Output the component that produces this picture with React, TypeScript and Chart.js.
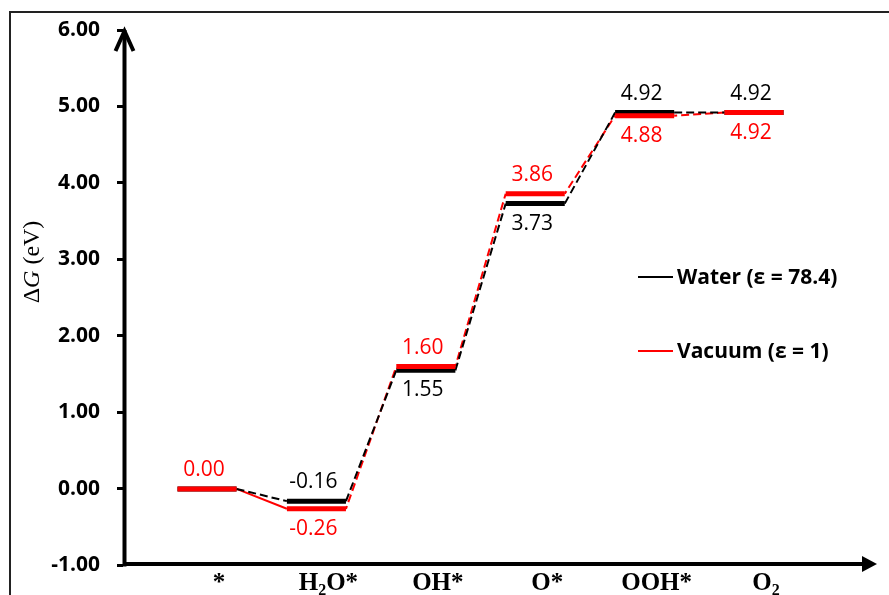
import React, { useEffect, useRef } from "react";
import { Chart, registerables } from "chart.js";

Chart.register(...registerables);

// ---- data ----
const states = ["*", "H2O*", "OH*", "O*", "OOH*", "O2"];
const waterG = [0.0, -0.16, 1.55, 3.73, 4.92, 4.92];
const vacuumG = [0.0, -0.26, 1.6, 3.86, 4.88, 4.92];
const waterLabelSide: (string | null)[] = [null, "above", "below", "below", "above", "above"];
const vacuumLabelSide: (string | null)[] = ["above", "below", "above", "above", "below", "below"];
const seriesNames = ["Water (\u03b5 = 78.4)", "Vacuum (\u03b5 = 1)"];
const seriesColors = ["#000000", "#ff0000"];
const yMin = -1;
const yMax = 6;
const yStep = 1;

const HALF = 0.27;

function levelPoints(vals: number[]) {
  const pts: any[] = [];
  vals.forEach((v, i) => {
    pts.push({ x: i - HALF, y: v }, { x: i + HALF, y: v }, { x: i + HALF, y: null });
  });
  return pts;
}
function connectorPoints(vals: number[]) {
  const pts: any[] = [];
  for (let i = 0; i < vals.length - 1; i++) {
    pts.push({ x: i + HALF, y: vals[i] }, { x: i + 1 - HALF, y: vals[i + 1] }, { x: i + 1 - HALF, y: null });
  }
  return pts;
}

const LABEL_FONT = "21px 'Open Sans'";
const BOLD_FONT = "bold 21px 'Open Sans'";

const decorPlugin = {
  id: "decor",
  beforeDraw(chart: any) {
    const ctx = chart.ctx;
    ctx.save();
    ctx.fillStyle = "#fff";
    ctx.fillRect(0, 0, chart.width, chart.height);
    ctx.strokeStyle = "#222";
    ctx.lineWidth = 2;
    ctx.strokeRect(10, 12, chart.width + 20, chart.height + 20);
    ctx.restore();
  },
  afterDraw(chart: any) {
    const ctx = chart.ctx;
    const area = chart.chartArea;
    const xs = chart.scales.x;
    const ys = chart.scales.y;
    ctx.save();
    // y axis with open arrow
    const ax = area.left + 1.5;
    ctx.strokeStyle = "#000";
    ctx.lineWidth = 4;
    ctx.lineCap = "butt";
    ctx.beginPath();
    ctx.moveTo(ax, area.bottom + 1);
    ctx.lineTo(ax, area.top);
    ctx.stroke();
    ctx.lineJoin = "miter";
    ctx.beginPath();
    ctx.moveTo(ax - 9, area.top + 21);
    ctx.lineTo(ax, area.top + 1);
    ctx.lineTo(ax + 9, area.top + 21);
    ctx.stroke();
    // x axis with filled arrow
    const ay = area.bottom - 1.5;
    ctx.beginPath();
    ctx.moveTo(area.left, ay);
    ctx.lineTo(area.right - 12, ay);
    ctx.stroke();
    ctx.fillStyle = "#000";
    ctx.beginPath();
    ctx.moveTo(area.right, ay);
    ctx.lineTo(area.right - 15, ay - 8);
    ctx.lineTo(area.right - 15, ay + 8);
    ctx.closePath();
    ctx.fill();

    // category labels with subscripts
    ctx.fillStyle = "#000";
    ctx.textBaseline = "alphabetic";
    ctx.textAlign = "left";
    const mainFont = "bold 25px 'Liberation Serif'";
    const subFont = "bold 16px 'Liberation Serif'";
    states.forEach((s, i) => {
      const parts: { t: string; sub: boolean }[] = [];
      const re = /(\d+)|([^\d]+)/g;
      let m;
      while ((m = re.exec(s))) parts.push({ t: m[0], sub: !!m[1] });
      let w = 0;
      parts.forEach((p) => {
        ctx.font = p.sub ? subFont : mainFont;
        w += ctx.measureText(p.t).width;
      });
      let x = xs.getPixelForValue(i) + 12 - w / 2;
      const base = 590;
      parts.forEach((p) => {
        ctx.font = p.sub ? subFont : mainFont;
        ctx.fillText(p.t, x, p.sub ? base + 5 : base);
        x += ctx.measureText(p.t).width;
      });
    });

    // y title
    ctx.save();
    ctx.translate(33, 262);
    ctx.rotate(-Math.PI / 2);
    const tparts = [
      { t: "\u0394", f: "24px 'Liberation Serif'" },
      { t: "G", f: "italic 24px 'Liberation Serif'" },
      { t: " (eV)", f: "24px 'Liberation Serif'" },
    ];
    let tw = 0;
    tparts.forEach((p) => {
      ctx.font = p.f;
      tw += ctx.measureText(p.t).width;
    });
    let tx = -tw / 2;
    ctx.textBaseline = "middle";
    tparts.forEach((p) => {
      ctx.font = p.f;
      ctx.fillText(p.t, tx, 0);
      tx += ctx.measureText(p.t).width;
    });
    ctx.restore();

    // value labels
    ctx.textAlign = "center";
    ctx.textBaseline = "middle";
    ctx.font = LABEL_FONT;
    const series = [
      { vals: waterG, sides: waterLabelSide, color: seriesColors[0] },
      { vals: vacuumG, sides: vacuumLabelSide, color: seriesColors[1] },
    ];
    series.forEach((s) => {
      ctx.fillStyle = s.color;
      s.vals.forEach((v, i) => {
        const side = s.sides[i];
        if (!side) return;
        const x = xs.getPixelForValue(i) - 3;
        const y = ys.getPixelForValue(v) + (side === "above" ? -19 : 20);
        ctx.fillText(v.toFixed(2), x, y);
      });
    });

    // legend
    const legendY = [277, 351];
    seriesNames.forEach((name, i) => {
      ctx.strokeStyle = seriesColors[i];
      ctx.lineWidth = 2;
      ctx.beginPath();
      ctx.moveTo(638, legendY[i]);
      ctx.lineTo(673, legendY[i]);
      ctx.stroke();
      ctx.fillStyle = "#000";
      ctx.font = BOLD_FONT;
      ctx.textAlign = "left";
      ctx.textBaseline = "middle";
      ctx.fillText(name, 677, legendY[i] + 1);
    });
    ctx.restore();
  },
};

export default function App() {
  const ref = useRef<HTMLCanvasElement>(null);
  useEffect(() => {
    document.body.style.margin = "0";
    const canvas = ref.current!;
    const dashed = [8, 4];
    const chart = new Chart(canvas, {
      type: "scatter",
      data: {
        datasets: [
          {
            label: seriesNames[1] + " levels",
            data: levelPoints(vacuumG),
            showLine: true,
            borderColor: seriesColors[1],
            borderWidth: 5,
            pointRadius: 0,
            spanGaps: false,
            order: 0,
          },
          {
            label: seriesNames[0] + " levels",
            data: levelPoints(waterG),
            showLine: true,
            borderColor: seriesColors[0],
            borderWidth: 5,
            pointRadius: 0,
            spanGaps: false,
            order: 1,
          },
          {
            label: seriesNames[0] + " steps",
            data: connectorPoints(waterG),
            showLine: true,
            borderColor: seriesColors[0],
            borderWidth: 2,
            borderDash: dashed,
            pointRadius: 0,
            spanGaps: false,
            order: 2,
          },
          {
            label: seriesNames[1] + " steps",
            data: connectorPoints(vacuumG),
            showLine: true,
            borderColor: seriesColors[1],
            borderWidth: 2,
            pointRadius: 0,
            spanGaps: false,
            order: 3,
            segment: {
              borderDash: (c: any) => (c.p0DataIndex === 0 ? [] : [8, 4]),
              borderDashOffset: () => 5,
            },
          },
        ],
      },
      options: {
        animation: false,
        responsive: false,
        layout: { padding: { left: 0, top: 30, right: 12, bottom: 0 } },
        plugins: { legend: { display: false }, tooltip: { enabled: false } },
        scales: {
          x: {
            type: "linear",
            min: -0.768,
            max: 6.124,
            grid: { display: false },
            border: { display: false },
            ticks: { display: false },
            afterFit: (s: any) => {
              s.height = 29;
            },
          },
          y: {
            type: "linear",
            min: yMin,
            max: yMax,
            grid: {
              display: true,
              drawOnChartArea: false,
              drawTicks: true,
              tickLength: 6,
              lineWidth: 3,
              color: "#000",
            },
            border: { display: false },
            ticks: {
              stepSize: yStep,
              padding: 17,
              color: "#000",
              font: { family: "'Open Sans'", size: 21, weight: "bold" },
              callback: (v: any) => Number(v).toFixed(2),
            },
            afterFit: (s: any) => {
              s.width = 123;
            },
          },
        },
      },
      plugins: [decorPlugin],
    });
    return () => chart.destroy();
  }, []);
  return (
    <div style={{ width: 889, height: 595 }}>
      <canvas ref={ref} width={889} height={595} />
    </div>
  );
}
